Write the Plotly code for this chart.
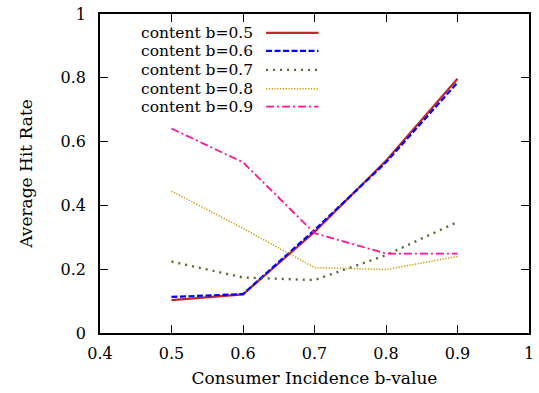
import plotly.graph_objects as go

# Consumer incidence b-values on the x axis
b_values = [0.5, 0.6, 0.7, 0.8, 0.9]

# Average hit rate for each content b-value
hit_b05 = [0.103, 0.121, 0.317, 0.540, 0.797]
hit_b06 = [0.113, 0.122, 0.323, 0.535, 0.785]
hit_b07 = [0.224, 0.174, 0.166, 0.244, 0.348]
hit_b08 = [0.445, 0.328, 0.205, 0.199, 0.240]
hit_b09 = [0.641, 0.535, 0.313, 0.249, 0.249]

series_names = ["content b=0.5", "content b=0.6", "content b=0.7",
                "content b=0.8", "content b=0.9"]
series_values = [hit_b05, hit_b06, hit_b07, hit_b08, hit_b09]

x_ticks = [0.4, 0.5, 0.6, 0.7, 0.8, 0.9, 1.0]
x_tick_text = ["0.4", "0.5", "0.6", "0.7", "0.8", "0.9", "1"]
y_ticks = [0, 0.2, 0.4, 0.6, 0.8, 1.0]
y_tick_text = ["0", "0.2", "0.4", "0.6", "0.8", "1"]

styles = [
    dict(color="#c0282d", width=2.2, dash="solid"),
    dict(color="#0000ff", width=2.2, dash="6px,2.5px"),
    dict(color="#556b2f", width=2.4, dash="2px,5px"),
    dict(color="#c89600", width=1.5, dash="1.2px,1.6px"),
    dict(color="#ff1493", width=1.8, dash="8px,3px,2px,3px"),
]

FONT = "DejaVu Serif"

fig = go.Figure()
for name, vals, st in zip(series_names, series_values, styles):
    fig.add_trace(go.Scatter(x=b_values, y=vals, mode="lines", name=name,
                             line=st, showlegend=False))

# gnuplot-style key: right-aligned label followed by a line sample
W, H = 539, 393
ml, mr, mt, mb = 100, 5, 13, 60
pw, ph = W - ml - mr, H - mt - mb
key_rows_px = [32, 50, 69, 88, 106]
text_right_px = 256
sample_x0_px, sample_x1_px = 268, 321
for name, st, ypx in zip(series_names, styles, key_rows_px):
    yp = 1 - (ypx - mt) / ph
    fig.add_annotation(x=(text_right_px - ml) / pw, y=yp, xref="paper", yref="paper",
                       text=name, showarrow=False, xanchor="right", yanchor="middle",
                       borderpad=0,
                       font=dict(family=FONT, size=15.5, color="black"))
    fig.add_shape(type="line", xref="paper", yref="paper",
                  x0=(sample_x0_px - ml) / pw, x1=(sample_x1_px - ml) / pw,
                  y0=yp, y1=yp, line=st)

axis_common = dict(
    showline=True, linecolor="black", linewidth=1.5, mirror="allticks",
    ticks="inside", ticklen=8, tickwidth=1.2, tickcolor="black",
    showgrid=False, zeroline=False,
    tickfont=dict(family=FONT, size=16, color="black"),
)

fig.update_layout(
    width=W, height=H,
    margin=dict(l=ml, r=mr, t=mt, b=mb),
    paper_bgcolor="white", plot_bgcolor="white",
    font=dict(family=FONT, color="black"),
    xaxis=dict(range=[0.4, 1.0], tickvals=x_ticks, ticktext=x_tick_text,
               title=dict(text="Consumer Incidence b-value", standoff=10,
                          font=dict(family=FONT, size=17, color="black")),
               ticklabelstandoff=5, **axis_common),
    yaxis=dict(range=[0, 1.0], tickvals=y_ticks, ticktext=y_tick_text,
               title=dict(text="Average Hit Rate", standoff=24,
                          font=dict(family=FONT, size=17, color="black")),
               ticklabelstandoff=9, **axis_common),
)

fig.write_html("out.html")
